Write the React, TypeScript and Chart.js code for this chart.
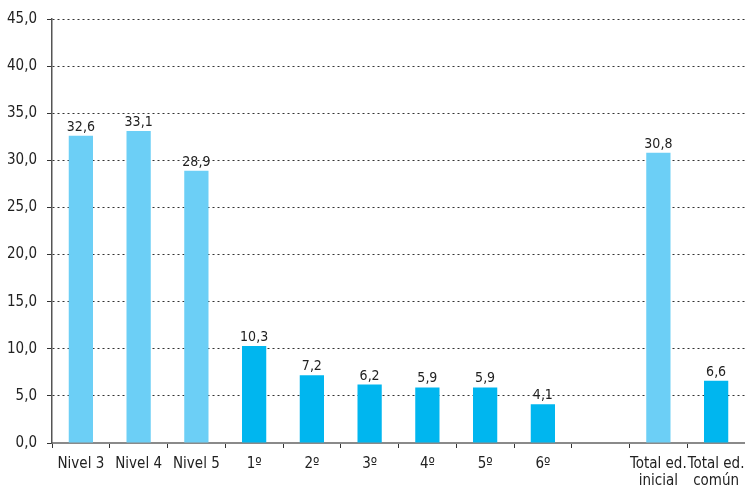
import React, { useEffect, useRef } from "react";
import { Chart, registerables } from "chart.js";

Chart.register(...registerables);

const categories: (string | string[])[] = [
  "Nivel 3", "Nivel 4", "Nivel 5", "1º", "2º", "3º", "4º", "5º", "6º", "",
  ["Total ed.", "inicial"], ["Total ed.", "común"],
];
const values: (number | null)[] = [32.6, 33.1, 28.9, 10.3, 7.2, 6.2, 5.9, 5.9, 4.1, null, 30.8, 6.6];
const barColors: string[] = [
  "#6ccff6", "#6ccff6", "#6ccff6", "#00b6ef", "#00b6ef", "#00b6ef", "#00b6ef", "#00b6ef", "#00b6ef",
  "#00b6ef", "#6ccff6", "#00b6ef",
];
const yMin = 0;
const yMax = 45;
const yStep = 5;

const FONT = "'Liberation Sans Narrow', 'DejaVu Sans Condensed', 'Roboto', sans-serif";

const fmt = (v: number) => v.toFixed(1).replace(".", ",");

// Value printed above every bar
const valueLabels = {
  id: "valueLabels",
  afterDatasetsDraw(chart: any) {
    const ctx = chart.ctx;
    const meta = chart.getDatasetMeta(0);
    ctx.save();
    ctx.font = `14px ${FONT}`;
    ctx.fillStyle = "#222";
    ctx.textAlign = "center";
    ctx.textBaseline = "alphabetic";
    meta.data.forEach((bar: any, i: number) => {
      const v = values[i];
      if (v == null) return;
      ctx.fillText(fmt(v), bar.x, bar.y - 5);
    });
    ctx.restore();
  },
};

export default function App() {
  const ref = useRef<HTMLCanvasElement>(null);

  useEffect(() => {
    document.body.style.margin = "0";
    const chart = new Chart(ref.current!, {
      type: "bar",
      data: {
        labels: categories,
        datasets: [
          {
            data: values,
            backgroundColor: barColors,
            barPercentage: 0.84,
            categoryPercentage: 0.5,
          },
        ],
      },
      options: {
        animation: false,
        responsive: false,
        layout: { padding: { top: 19, left: 0, right: 0, bottom: 0 } },
        plugins: { legend: { display: false }, tooltip: { enabled: false } },
        scales: {
          x: {
            offset: true,
            grid: {
              offset: true,
              drawOnChartArea: false,
              drawTicks: true,
              tickLength: 5,
              color: "#333",
              lineWidth: 1,
            },
            border: { color: "#8a8a8a", width: 2 },
            ticks: {
              color: "#222",
              font: { family: FONT, size: 15, lineHeight: 1.13 },
              padding: 8,
              maxRotation: 0,
              autoSkip: false,
            },
            afterFit(scale: any) {
              scale.height = 48;
              scale.paddingLeft = 0;
              scale.paddingRight = 0;
            },
          },
          y: {
            min: yMin,
            max: yMax,
            grid: {
              color: "#333",
              lineWidth: 1,
              tickBorderDash: [],
              tickColor: "#333",
              tickLength: 5,
            },
            border: { color: "#555", width: 1.5, dash: [2, 3] },
            ticks: {
              stepSize: yStep,
              color: "#222",
              font: { family: FONT, size: 15 },
              padding: 10,
              callback: (v: any) => fmt(Number(v)),
            },
            afterFit(scale: any) {
              scale.width = 52;
            },
          },
        },
      },
      plugins: [valueLabels],
    });
    return () => chart.destroy();
  }, []);

  return (
    <div style={{ position: "absolute", left: 0, top: 0, width: 745, height: 491 }}>
      <canvas ref={ref} width={745} height={491} />
    </div>
  );
}
